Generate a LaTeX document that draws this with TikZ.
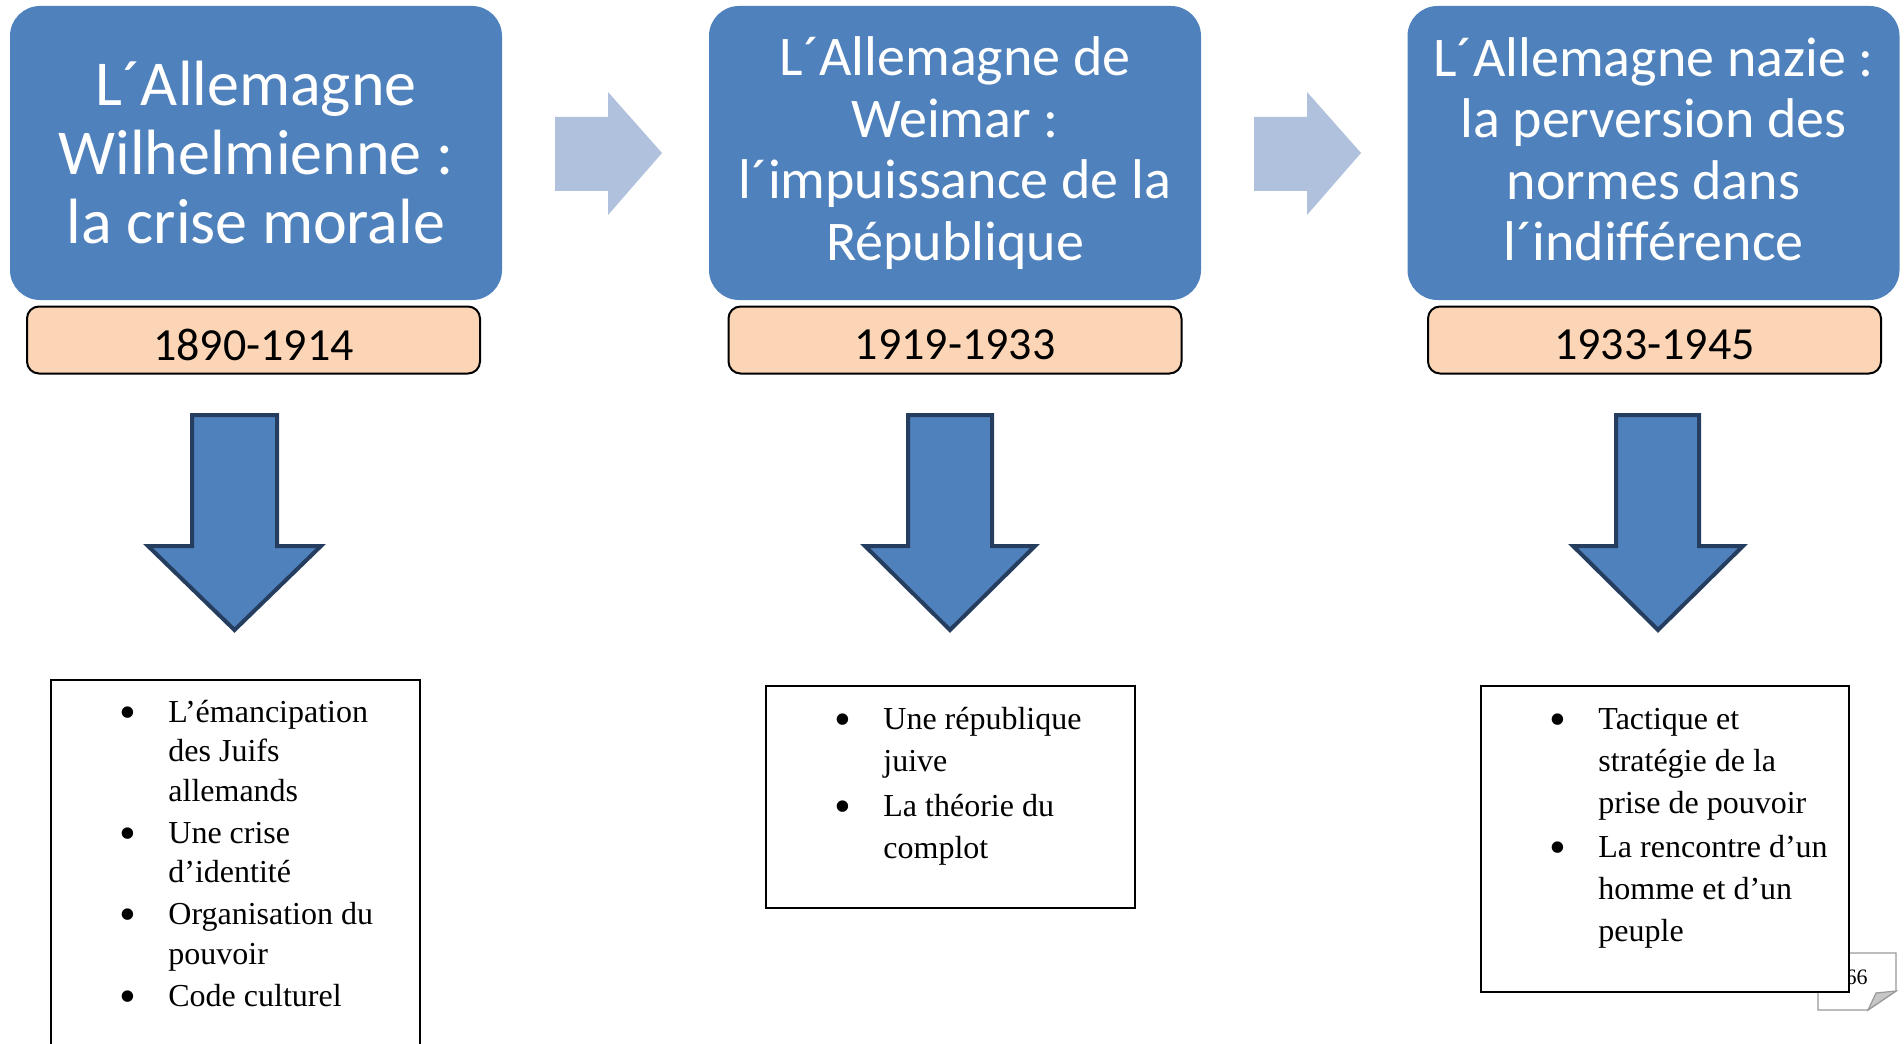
\documentclass[tikz,border=0pt]{standalone}
\usepackage{fontspec}
\usepackage{graphicx}
\setmainfont{Liberation Serif}
\newfontfamily\carlito{Carlito}
\definecolor{hblue}{RGB}{79,129,189}
\definecolor{lblue}{RGB}{176,193,221}
\definecolor{peach}{RGB}{251,213,181}
\definecolor{navy}{RGB}{37,62,95}
\newcommand\bigbul{\hspace{-1.4pt}\raisebox{-3.2pt}{\scalebox{1.5}{\textbullet}}}
\newcommand\bitem[1]{\hbox{\makebox[23.25pt][l]{\bigbul}#1}}
\newcommand\contline[1]{\hbox{\hspace{23.25pt}#1}}
\tikzset{
  headbox/.style={fill=hblue, rounded corners=15pt, minimum width=246pt, minimum height=147pt,
    text=white, align=center, inner sep=0pt},
  datebox/.style={fill=peach, draw=black, line width=1pt, rounded corners=6pt,
    minimum width=226.5pt, minimum height=33.5pt, inner sep=0pt},
  datetext/.style={inner sep=0pt, font=\carlito\fontsize{23}{27}\selectfont},
  rarrow/.style={fill=lblue},
  darrow/.style={fill=hblue, draw=navy, line width=2pt, line join=miter},
  listbox/.style={draw=black, line width=1pt, fill=white, inner sep=0pt},
  listtext/.style={anchor=base west, inner sep=0pt, font=\fontsize{16}{20}\selectfont},
  notebox/.style={draw=black!40, line width=0.6pt, fill=white},
}
\begin{document}
\begin{tikzpicture}[x=0.5pt,y=-0.5pt]
\useasboundingbox (0,0) rectangle (1904,1043);
% heading boxes
\node[headbox, font=\carlito\fontsize{32}{34.5}\selectfont] (h1) at (256,153)
  {L´Allemagne\\Wilhelmienne :\\la crise morale};
\node[headbox, font=\carlito\fontsize{28}{30.75}\selectfont] (h2) at (955,153)
  {L´Allemagne de\\Weimar :\\l´impuissance de la\\République};
\node[headbox, font=\carlito\fontsize{28}{30.75}\selectfont, text depth=4pt] (h3) at (1653.5,153)
  {L´Allemagne nazie :\\la perversion des\\normes dans\\l´indifférence};
% date boxes
\node[datebox] (d1) at (253.5,340) {};
\node[datebox] (d2) at (955,340) {};
\node[datebox] (d3) at (1654.5,340) {};
\node[datetext] (dt1) at ([yshift=-2.5pt]d1.center) {1890-1914};
\node[datetext] (dt2) at ([yshift=-2.5pt]d2.center) {1919-1933};
\node[datetext] (dt3) at ([yshift=-2.5pt]d3.center) {1933-1945};
% right arrows
\path[rarrow] (555,117) -- (608,117) -- (608,92) -- (662,153) -- (608,215) -- (608,191) -- (555,191) -- cycle;
\path[rarrow] (1254,117) -- (1307,117) -- (1307,92) -- (1361,153) -- (1307,215) -- (1307,191) -- (1254,191) -- cycle;
% down arrows
\draw[darrow] (192,415) -- (277,415) -- (277,546) -- (321,546) -- (234.5,630) -- (148,546) -- (192,546) -- cycle;
\draw[darrow] (908,415) -- (992,415) -- (992,546) -- (1035,546) -- (950,630) -- (865,546) -- (908,546) -- cycle;
\draw[darrow] (1616,415) -- (1699,415) -- (1699,546) -- (1743,546) -- (1658,630) -- (1573,546) -- (1616,546) -- cycle;
% page note
\draw[notebox] (1818,953) -- (1896,953) -- (1896,991) -- (1868,1010) -- (1818,1010) -- cycle;
\filldraw[draw=black!40, fill=black!22, line width=0.6pt] (1896,991) -- (1868,1010) -- (1876,993) -- cycle;
\node[anchor=base east, inner sep=0pt, font=\fontsize{11}{13}\selectfont] (pg) at (1868,984) {66};
% list boxes
\node[listbox, minimum width=184.5pt, minimum height=190pt] (t1) at (235.5,870) {};
\node[listbox, minimum width=184.5pt, minimum height=111pt] (t2) at (950.5,797) {};
\node[listbox, minimum width=184pt, minimum height=153pt] (t3) at (1665,839) {};
% list texts
\node[listtext] (l1) at (121.5,722) {\vtop{\baselineskip=19.75pt
  \bitem{L’émancipation}\contline{des Juifs}\contline{allemands}\vskip1.25pt
  \bitem{Une crise}\contline{d’identité}\vskip1.25pt
  \bitem{Organisation du}\contline{pouvoir}\vskip1.25pt
  \bitem{Code culturel}}};
\node[listtext] (l2) at (836.5,729) {\vtop{\baselineskip=21pt
  \bitem{Une république}\contline{juive}\vskip1.5pt
  \bitem{La théorie du}\contline{complot}}};
\node[listtext] (l3) at (1551.5,729) {\vtop{\baselineskip=21pt
  \bitem{Tactique et}\contline{stratégie de la}\contline{prise de pouvoir}\vskip1pt
  \bitem{La rencontre d’un}\contline{homme et d’un}\contline{peuple}}};
\end{tikzpicture}
\end{document}
